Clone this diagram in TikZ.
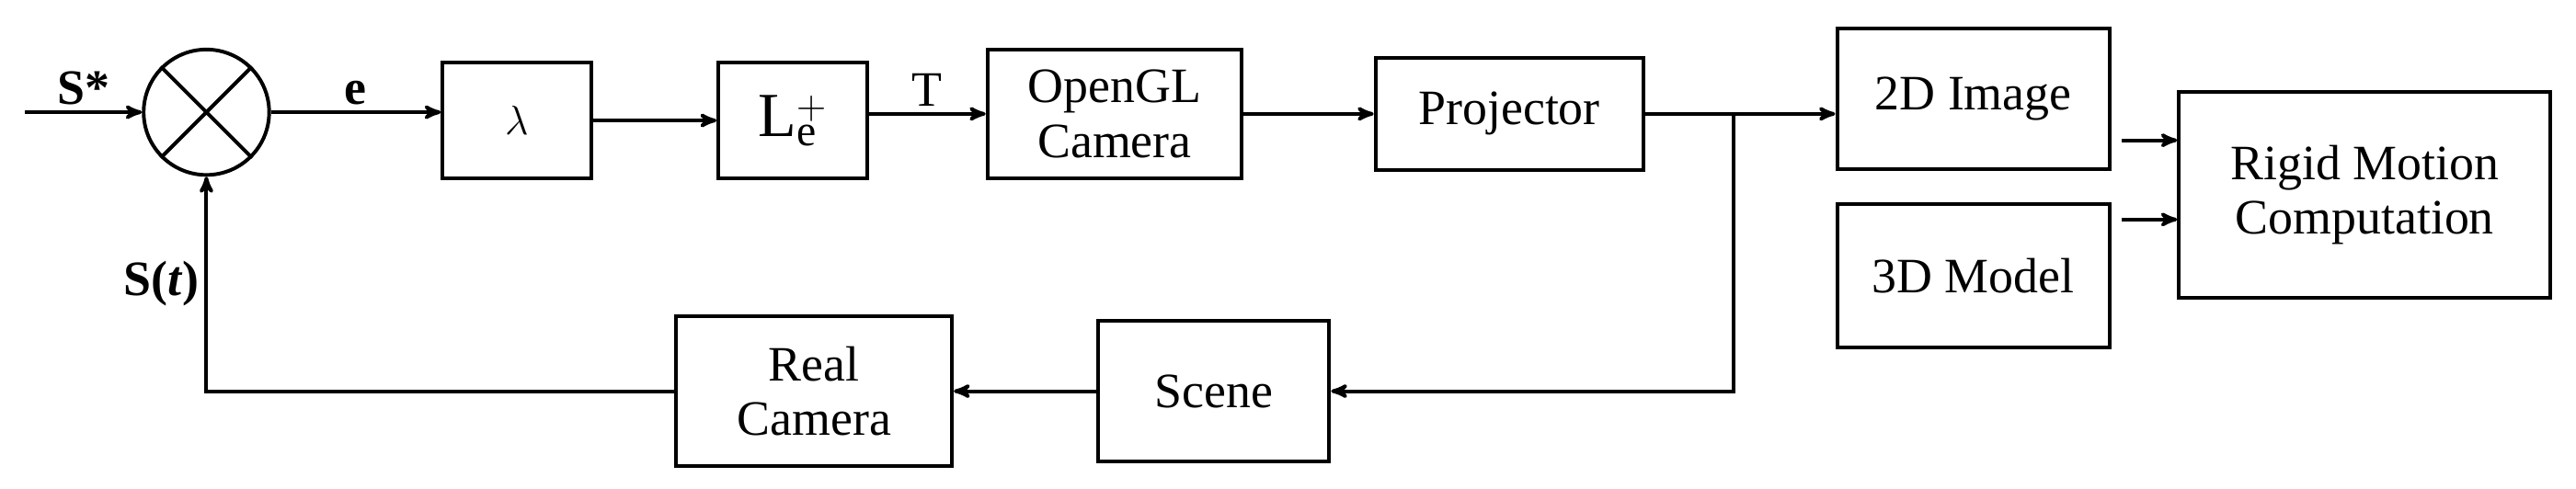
\documentclass[tikz,border=0pt]{standalone}
\usepackage{fontspec}
\setmainfont{Liberation Serif}
\usetikzlibrary{arrows,positioning}
\begin{document}
\begin{tikzpicture}[->,>=stealth',x=1pt,y=-1pt,line width=2.2pt,
                    font=\fontsize{30}{33}\selectfont]
  \tikzstyle{block}=[draw,rectangle,line width=2.2pt,align=center,inner sep=0pt]
  \tikzstyle{sig}=[font=\fontsize{30}{33}\selectfont\bfseries]
  \useasboundingbox (0,0) rectangle (1560,296);

  \node[draw,circle,minimum size=76pt,inner sep=0pt] (sum) at (125,68) {};
  \draw[-] (sum.45)--(sum.225) (sum.135)--(sum.315);
  \coordinate (in) at (15,68);
  \node[block,minimum width=90pt,minimum height=70pt] (lam) at (313,73) {\fontsize{44}{44}\selectfont$\lambda$};
  \node[block,minimum width=90pt,minimum height=70pt] (L) at (480,73) {\fontsize{38}{38}\selectfont L$_\mathrm{e}^{+}$};
  \node[block,minimum width=154pt,minimum height=78pt] (gl) at (675,69) {OpenGL\\Camera};
  \node[block,minimum width=162pt,minimum height=68pt] (proj) at (914,69) {Projector};
  \node[block,minimum width=165pt,minimum height=85pt] (img) at (1195,60) {2D Image};
  \node[block,minimum width=165pt,minimum height=87pt] (mod) at (1195,167) {3D Model};
  \node[block,minimum width=225pt,minimum height=125pt] (rig) at (1432,118) {Rigid Motion\\Computation};
  \node[block,minimum width=140pt,minimum height=85pt] (scene) at (735,237) {Scene};
  \node[block,minimum width=167pt,minimum height=91pt] (real) at (493,237) {Real\\Camera};
  \coordinate (br) at (1050,69);
  \coordinate (a1) at (1285,85);
  \coordinate (a2) at (1285,133);

  \draw (in)--node[above,sig] {S*} (sum);
  \draw (sum.east)--node[above,sig] {e} (lam.west|-sum.east);
  \draw (lam)--(L);
  \draw (L.east|-gl)--node[above] {T} (gl);
  \draw (gl)--(proj);
  \draw (proj)--(img.west|-proj);
  \draw (br)|-(scene);
  \draw (scene)--(real);
  \draw (real)-|node[pos=0.75,left,sig] {S(\textit{t})} (sum);
  \draw (a1)--(rig.west|-a1);
  \draw (a2)--(rig.west|-a2);
\end{tikzpicture}
\end{document}
